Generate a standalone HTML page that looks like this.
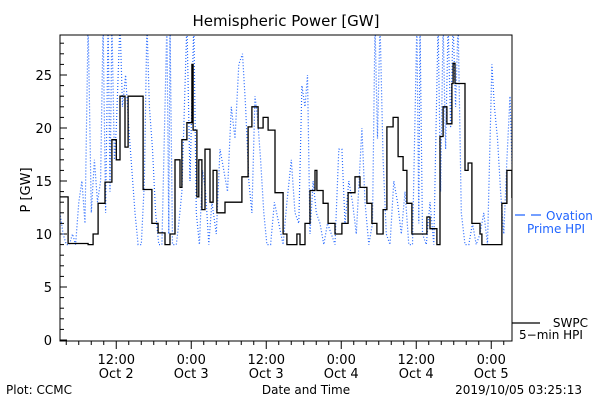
<!DOCTYPE html>
<html><head><meta charset="utf-8"><style>
html,body{margin:0;padding:0;background:#fff}
svg{display:block;font-family:"DejaVu Sans","Liberation Sans",sans-serif}
</style></head><body>
<svg id="chart" width="600" height="400" viewBox="0 0 600 400">
<rect width="600" height="400" fill="#fff"/>
<text x="286" y="26" font-size="15" text-anchor="middle">Hemispheric Power [GW]</text>
<text x="0" y="0" font-size="13" text-anchor="middle" transform="translate(30,190) rotate(-90)">P [GW]</text>
<text x="306" y="394" font-size="12" text-anchor="middle">Date and Time</text>
<text x="6" y="394" font-size="12">Plot: CCMC</text>
<text x="582" y="394" font-size="12" text-anchor="end">2019/10/05 03:25:13</text>
<g id="yaxis"></g>
<g id="xaxis"></g>
<defs><clipPath id="pc"><rect x="60" y="35" width="452" height="306"/></clipPath></defs>
<g clip-path="url(#pc)">
<polyline id="ovation" fill="none" stroke="#2266ff" stroke-width="1.2" stroke-dasharray="1,2"/>
<polyline id="swpc" fill="none" stroke="#000" stroke-width="1.3"/>
</g>
<rect x="60" y="35" width="452" height="306" fill="none" stroke="#000" stroke-width="1"/>
<g>
<line x1="515" y1="215" x2="541" y2="215" stroke="#2266ff" stroke-width="1.2" stroke-dasharray="10,6"/>
<text x="546" y="220" font-size="12" fill="#2266ff">Ovation</text>
<text x="527" y="233" font-size="12" fill="#2266ff">Prime HPI</text>
</g>
<g>
<line x1="512" y1="323" x2="540" y2="323" stroke="#000" stroke-width="1.2"/>
<text x="588" y="327" font-size="12" text-anchor="end">SWPC</text>
<text x="519" y="339" font-size="12">5−min HPI</text>
</g>
</svg>
<script>
const swpcHours=[0,0.2,1.3,4.5,5.3,6.1,7.2,8.3,9,9.6,10.4,10.9,12.3,13.3,14.7,15.7,16.8,17.6,18.4,19.2,19.5,20.3,21.1,21.3,21.9,22.2,22.7,23.2,24,24.5,25.1,26.4,28,29.1,30.1,30.7,31.7,32.5,33.3,34.4,35.7,36.3,37.9,38.4,39.2,40,40.8,41.1,42.1,42.9,44,45.1,46.1,47.2,48,49.1,49.9,50.7,51.7,52.3,53.3,54.1,54.9,55.5,56.3,57.9,58.7,59.2,60.3,60.8,61.3,61.9,62.7,62.9,63.2,64.3,64.8,65.3,65.9,67.2,67.5,69.9,70.7,71.5,72.3];
const swpcValues=[13.5,13.5,9.1,9,10,12.9,14.9,18.9,17,23,18.2,23,23,14.2,11,10.1,9,10,17,14.4,18.9,20.5,26,19.8,13.5,17,12.3,18,13,16,12,13,13,15.4,20.1,22,20,21,19.8,13.9,10,9,10,9,11,14.1,16,14.1,12.9,11,10,11,13.9,15.4,14.4,12.9,11,10,12.3,20.1,21,17.3,16,12.9,10,10,11.6,10.5,9,19.2,22,20.4,24.2,26.1,24.2,24.2,16,16.7,11,10,9,9,12.9,16,13.4];
const ovHours=[0,0.5,1,1.5,2,2.5,3,3.5,4,4.5,5,5.5,6,6.5,6.9,7.3,7.7,8,8.3,8.7,9,9.6,10,10.5,11,11.5,12,12.5,13,13.5,13.9,14.3,14.8,15.3,15.8,16.3,17.1,17.4,17.6,18,18.6,19,19.5,20.3,20.8,21.4,21.8,22.3,22.8,23.3,23.8,24.3,25,25.6,26.2,26.8,27.4,28,28.6,29.2,29.7,30.2,30.7,31.2,31.6,32.1,32.6,33.1,33.7,34.3,35,35.7,36.3,37,37.6,38.2,38.7,39.2,39.6,40,40.5,41,41.6,42.2,42.8,43.4,44,44.6,45.1,45.6,46.2,46.8,47.4,48.3,48.8,49.4,50,50.4,50.8,51.2,51.7,52.2,52.8,53.4,54,54.6,55.2,55.8,56.4,57.1,57.4,57.6,58,58.6,59.2,59.8,60.5,60.9,61.3,61.7,62.1,62.5,62.9,63.3,63.7,64.2,64.8,65.4,66,66.6,67.2,67.8,68.4,69.1,69.5,70,70.5,71,71.5,72,72.4];
const ovValues=[12,10,9,9,10,9,13,15,11,30,12,17,13,15,30,12,30,14,30,17,20,30,22,25,20,16,12,9,9,15,30,22,18,12,9,9,30,10,30,9,9,11,14,30,15,30,12,9,16,14,9,13,10,18,16,14,22,19,26,27,22,15,12,23,21,17,12,9,9,13,11,9,13,17,12,11,24,22,25,10,15,12,11,9,11,10,9,18,18,11,15,13,10,20,13,9,11,30,19,30,17,10,9,15,13,10,14,9,9,30,11,30,10,9,13,9,30,14,30,18,30,20,30,22,30,12,9,9,11,9,10,12,9,26,22,19,14,10,17,23,15];
const yTicks=[0,5,10,15,20,25];
const xMajorHours=[9,21,33,45,57,69];
const xTimeLabels=["12:00","0:00","12:00","0:00","12:00","0:00"];
const xDateLabels=["Oct 2","Oct 3","Oct 3","Oct 4","Oct 4","Oct 5"];
const NS="http://www.w3.org/2000/svg";
const X0=60,X1=512,Y0=340,PXH=6.25,PXV=10.6;
function sx(h){return X0+h*PXH;}
function sy(v){return Y0-v*PXV;}
function pts(hs,vs){return hs.map((h,i)=>sx(h).toFixed(1)+","+sy(vs[i]).toFixed(1)).join(" ");}
function stepPts(hs,vs){
  const out=[];
  hs.forEach((h,i)=>{
    if(i>0) out.push(sx(h).toFixed(1)+","+sy(vs[i-1]).toFixed(1));
    out.push(sx(h).toFixed(1)+","+sy(vs[i]).toFixed(1));
  });
  return out.join(" ");
}
document.getElementById('swpc').setAttribute('points',stepPts(swpcHours,swpcValues));
document.getElementById('ovation').setAttribute('points',pts(ovHours,ovValues));
const ya=document.getElementById('yaxis');
for(let v=0;v<=28;v++){
  const l=document.createElementNS(NS,'line');
  const len=(v%5===0)?7:4;
  l.setAttribute('x1',X0);l.setAttribute('x2',X0+len);
  l.setAttribute('y1',sy(v));l.setAttribute('y2',sy(v));
  l.setAttribute('stroke','#000');
  
  
  ya.appendChild(l);
}
yTicks.forEach(v=>{
  const t=document.createElementNS(NS,'text');
  t.setAttribute('x',X0-8);t.setAttribute('y',sy(v)+5);
  t.setAttribute('font-size','13');t.setAttribute('text-anchor','end');
  t.textContent=v;
  
  
  ya.appendChild(t);
});
const xa=document.getElementById('xaxis');
for(let h=1;h<=72;h+=2){
  const l=document.createElementNS(NS,'line');
  const major=xMajorHours.includes(h);
  l.setAttribute('x1',sx(h));l.setAttribute('x2',sx(h));
  l.setAttribute('y1',341);l.setAttribute('y2',major?349:345);
  l.setAttribute('stroke','#000');
  
  
  xa.appendChild(l);
}
xMajorHours.forEach((h,i)=>{
  const t=document.createElementNS(NS,'text');
  t.setAttribute('x',sx(h));t.setAttribute('y',364);
  t.setAttribute('font-size','13');t.setAttribute('text-anchor','middle');
  t.textContent=xTimeLabels[i];
  
  
  xa.appendChild(t);
  const d=document.createElementNS(NS,'text');
  d.setAttribute('x',sx(h));d.setAttribute('y',378);
  d.setAttribute('font-size','13');d.setAttribute('text-anchor','middle');
  d.textContent=xDateLabels[i];
  
  
  xa.appendChild(d);
});
</script>
</body></html>
